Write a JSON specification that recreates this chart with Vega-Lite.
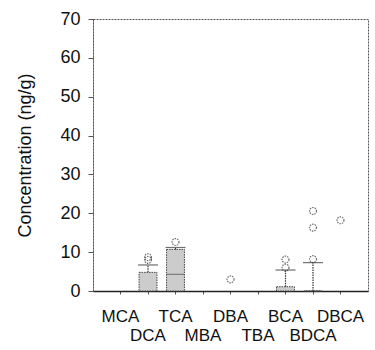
{
  "$schema": "https://vega.github.io/schema/vega-lite/v6.json",
  "autosize": {"type": "none"},
  "padding": {"left": 93, "top": 19, "right": 7, "bottom": 59},
  "width": 275,
  "height": 272,
  "background": "white",
  "config": {
    "font": "Liberation Sans",
    "view": {"stroke": "#555", "strokeDash": [2, 1], "strokeWidth": 1},
    "axisY": {
      "title": "Concentration (ng/g)",
      "titleFontSize": 18,
      "titleFontWeight": "normal",
      "titleColor": "#111",
      "titleX": -68,
      "titleY": 136,
      "titleAlign": "center",
      "titleBaseline": "middle",
      "titleAngle": -90,
      "labelOverlap": false,
      "labelFlush": false,
      "labelFontSize": 18,
      "labelColor": "#111",
      "labelPadding": 8,
      "tickSize": 5,
      "tickColor": "#555",
      "domainColor": "#555",
      "domainDash": [2, 1],
      "grid": false
    }
  },
  "datasets": {
    "stats": [
      {"cat": "MCA"},
      {"cat": "DCA", "q3": 4.8, "whisk": 6.7},
      {"cat": "TCA", "q3": 10.7, "med": 4.3, "whisk": 11.2},
      {"cat": "MBA"},
      {"cat": "DBA"},
      {"cat": "TBA"},
      {"cat": "BCA", "q3": 1.1, "whisk": 5.4},
      {"cat": "BDCA", "q3": 0, "whisk": 7.3},
      {"cat": "DBCA"}
    ],
    "outliers": [
      {"cat": "DCA", "v": 8.0},
      {"cat": "DCA", "v": 8.7},
      {"cat": "TCA", "v": 12.6},
      {"cat": "DBA", "v": 3.0},
      {"cat": "BCA", "v": 6.0},
      {"cat": "BCA", "v": 8.1},
      {"cat": "BDCA", "v": 8.2},
      {"cat": "BDCA", "v": 16.3},
      {"cat": "BDCA", "v": 20.6},
      {"cat": "DBCA", "v": 18.2}
    ]
  },
  "encoding": {
    "x": {
      "field": "cat",
      "type": "nominal",
      "sort": ["MCA", "DCA", "TCA", "MBA", "DBA", "TBA", "BCA", "BDCA", "DBCA"],
      "scale": {"paddingInner": 0.35, "paddingOuter": 0.675},
      "axis": {
        "title": null,
        "labelAngle": 0,
        "labelFontSize": 17,
        "labelColor": "#111",
        "labelPadding": 14,
        "labelLineHeight": 19,
        "labelBaseline": "top",
        "labelExpr": "indexof(['DCA','MBA','TBA','BDCA'], datum.value) >= 0 ? ['', datum.value] : datum.value",
        "tickSize": 3,
        "tickColor": "#555",
        "domainColor": "#222",
        "domainWidth": 1.5,
        "labelOverlap": false
      }
    }
  },
  "layer": [
    {
      "data": {"name": "stats"},
      "mark": {"type": "bar", "fill": "#cccccc", "stroke": "#444", "strokeDash": [1.5, 1], "strokeWidth": 1},
      "encoding": {
        "y": {
          "field": "q3",
          "type": "quantitative",
          "scale": {"domain": [0, 70], "nice": false},
          "axis": {"title": "Concentration (ng/g)", "values": [0, 10, 20, 30, 40, 50, 60, 70], "labelOverlap": false}
        }
      }
    },
    {
      "data": {"name": "stats"},
      "mark": {"type": "rule", "stroke": "#333", "strokeDash": [1.5, 1], "strokeWidth": 1.2},
      "encoding": {
        "y": {"field": "q3", "type": "quantitative", "axis": {"title": "Concentration (ng/g)", "values": [0, 10, 20, 30, 40, 50, 60, 70], "labelOverlap": false}},
        "y2": {"field": "whisk"}
      }
    },
    {
      "data": {"name": "stats"},
      "mark": {"type": "tick", "color": "#333", "strokeDash": [1.5, 1], "size": 20, "thickness": 1.2},
      "encoding": {
        "y": {"field": "whisk", "type": "quantitative", "axis": {"title": "Concentration (ng/g)", "values": [0, 10, 20, 30, 40, 50, 60, 70], "labelOverlap": false}}
      }
    },
    {
      "data": {"name": "stats"},
      "mark": {"type": "tick", "color": "#444", "strokeDash": [1.5, 1], "size": 17, "thickness": 1},
      "encoding": {
        "y": {"field": "med", "type": "quantitative", "axis": {"title": "Concentration (ng/g)", "values": [0, 10, 20, 30, 40, 50, 60, 70], "labelOverlap": false}}
      }
    },
    {
      "data": {"name": "outliers"},
      "mark": {"type": "point", "shape": "circle", "filled": false, "stroke": "#333", "strokeDash": [1.5, 1], "strokeWidth": 1.2, "size": 48},
      "encoding": {
        "y": {"field": "v", "type": "quantitative", "axis": {"title": "Concentration (ng/g)", "values": [0, 10, 20, 30, 40, 50, 60, 70], "labelOverlap": false}}
      }
    }
  ]
}
